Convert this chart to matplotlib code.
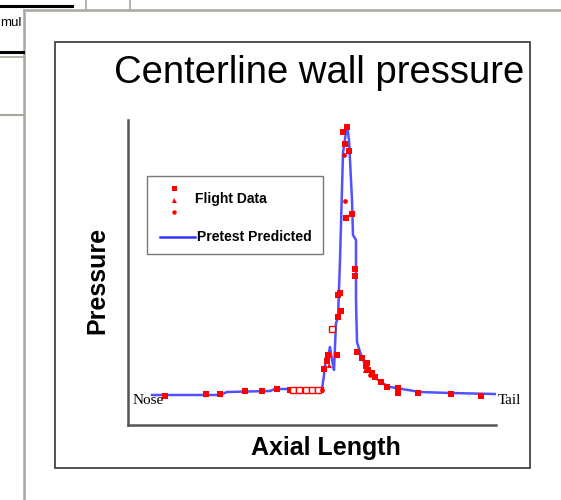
import matplotlib
matplotlib.use("Agg")
import matplotlib.pyplot as plt
from matplotlib.lines import Line2D
from matplotlib.patches import Rectangle

# ---- data (axial position, pressure) in arbitrary units ----
line_x = [24, 92, 99, 142, 147, 194, 196, 198, 201, 202, 204, 206, 208, 210, 212,
          215, 219, 221, 224, 225, 228, 228, 229, 232, 237, 242, 252, 262, 292, 322, 367]
line_y = [30, 30, 33, 34, 36, 36, 50, 68, 73, 78, 65, 55, 102, 107, 165,
          272, 300, 285, 225, 190, 185, 125, 83, 73, 60, 53, 43, 38, 33, 32, 31]

sq_x = [37, 78, 92, 117, 134, 149, 162, 168, 175, 181, 187, 193,
        196, 199, 200, 209, 210, 213, 210, 212, 219, 215, 217, 221, 218, 224,
        227, 227, 229, 234, 239, 238, 240, 244, 247, 253, 259, 270, 270, 290, 323, 353]
sq_y = [29, 31, 31, 34, 34, 36, 35, 35, 35, 35, 35, 35,
        56, 64, 70, 70, 108, 114, 130, 132, 298, 293, 281, 274, 207, 211,
        156, 149, 73, 67, 62, 59, 55, 52, 48, 43, 38, 37, 32, 32, 31, 29]
hollow_x = [165, 171, 178, 184, 190, 204]
hollow_y = [35, 35, 35, 35, 35, 96]
tri_x = [218, 237, 201]
tri_y = [282, 55, 60]
cir_x = [217, 242, 194, 216]
cir_y = [224, 50, 35, 270]

W, H = 561, 500
fig = plt.figure(figsize=(W / 100, H / 100), dpi=100)
fig.patch.set_facecolor("white")


def fx(x):
    return x / W


def fy(y):
    return 1 - y / H


def hline(x0, x1, y, color, lw):
    fig.add_artist(Line2D([fx(x0), fx(x1)], [fy(y), fy(y)], color=color, lw=lw,
                          transform=fig.transFigure))


def vline(x, y0, y1, color, lw):
    fig.add_artist(Line2D([fx(x), fx(x)], [fy(y0), fy(y1)], color=color, lw=lw,
                          transform=fig.transFigure))


# background UI fragments
hline(0, 72, 6, "black", 2.2)
vline(86, 0, 9, "#a8a8a0", 1.2)
vline(130, 0, 9, "#a8a8a0", 1.2)
hline(24, 561, 9.5, "#a8a8a0", 1.8)
vline(24, 9.5, 500, "#a8a8a0", 1.8)
hline(0, 23, 52, "black", 2.2)
hline(0, 23, 57, "#a8a8a0", 1.2)
hline(0, 24, 115, "#a8a8a0", 1.5)
fig.text(fx(0.5), fy(23), "mul", fontsize=9.5, family="Liberation Sans",
         ha="left", va="center", color="black")

# chart frame
fig.add_artist(Rectangle((fx(55), fy(468)), fx(530) - fx(55), fy(42) - fy(468),
                         transform=fig.transFigure, fill=False,
                         edgecolor="#444444", lw=1.3))

# axes
ax = fig.add_axes([fx(128), fy(425), fx(496) - fx(128), fy(120) - fy(425)])
ax.set_xlim(0, 368)
ax.set_ylim(0, 305)
for s in ("top", "right"):
    ax.spines[s].set_visible(False)
for s in ("left", "bottom"):
    ax.spines[s].set_color("#555555")
    ax.spines[s].set_linewidth(1.8)
ax.set_xticks([])
ax.set_yticks([])
ax.patch.set_alpha(0)

ax.plot(line_x, line_y, color="#3333ff", lw=1.8, alpha=0.85, zorder=2)
ax.plot(sq_x, sq_y, "s", color="#ff0000", ms=3.8, mew=0, zorder=3)
ax.plot(hollow_x, hollow_y, "s", mfc="white", mec="#ff0000", ms=3.8, mew=1.0,
        zorder=3)
ax.plot(tri_x, tri_y, "^", color="#ff0000", ms=3.6, mew=0, zorder=3)
ax.plot(cir_x, cir_y, "o", color="#ff0000", ms=3.4, mew=0, zorder=3)

# texts
fig.text(fx(319), fy(83), "Centerline wall pressure", fontsize=27.5,
         family="Liberation Sans", ha="center", va="baseline")
fig.text(fx(326), fy(455), "Axial Length", fontsize=18, fontweight="bold",
         family="Liberation Sans", ha="center", va="baseline")
fig.text(fx(97), fy(280), "Pressure", fontsize=18, fontweight="bold",
         family="Liberation Sans", ha="center", va="center", rotation=90)
fig.text(fx(133), fy(401), "Nose", fontsize=11, family="Liberation Serif",
         ha="left", va="center")
fig.text(fx(498), fy(401), "Tail", fontsize=11, family="Liberation Serif",
         ha="left", va="center")

# legend (custom box)
fig.add_artist(Rectangle((fx(147), fy(254)), fx(323) - fx(147), fy(176) - fy(254),
                         transform=fig.transFigure, fill=True, facecolor="white",
                         edgecolor="#777777", lw=1.0, zorder=5))
for yy, mk, ms in ((188, "s", 3.6), (200, "^", 3.6), (212, "o", 3.2)):
    fig.add_artist(Line2D([fx(174)], [fy(yy)], marker=mk, color="#ff0000", ms=ms,
                          mew=0, linestyle="none", transform=fig.transFigure,
                          zorder=6))
fig.text(fx(195), fy(199), "Flight Data", fontsize=10, fontweight="bold",
         family="Liberation Sans", ha="left", va="center", zorder=6)
fig.add_artist(Line2D([fx(160), fx(195)], [fy(237), fy(237)], color="#3333ff",
                      lw=1.8, transform=fig.transFigure, zorder=6))
fig.text(fx(197), fy(237), "Pretest Predicted", fontsize=10, fontweight="bold",
         family="Liberation Sans", ha="left", va="center", zorder=6)

fig.savefig("out.png", dpi=100, facecolor="white")
